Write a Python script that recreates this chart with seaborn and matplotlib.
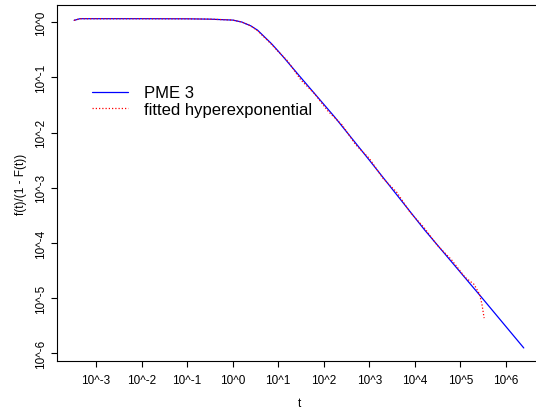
import numpy as np
import pandas as pd
import matplotlib
matplotlib.use("Agg")
import matplotlib.pyplot as plt
import seaborn as sns

# exponents (log10)
pme_logt = [-3.48, -3.35, -2.0, -1.0, -0.5, 0.0, 0.2, 0.4, 0.55, 0.7, 0.85, 0.96, 1.10,
            1.47, 2.24, 3.0, 4.21, 5.46, 6.39]
pme_logy = [0.03, 0.06, 0.06, 0.058, 0.052, 0.035, 0.0, -0.07, -0.15, -0.27, -0.39, -0.49,
            -0.62, -0.98, -1.72, -2.50, -3.76, -4.98, -5.90]

hyp_logt = [-3.48, -3.35, -1.0, -0.5, 0.0, 0.2, 0.4, 0.55, 0.7, 0.85, 0.96, 1.2, 1.5, 1.8,
            2.1, 2.4, 2.7, 3.0, 3.3, 3.6, 3.9, 4.2, 4.5, 4.8, 5.1, 5.3, 5.42, 5.47, 5.52]
hyp_logy = [0.03, 0.06, 0.058, 0.052, 0.035, 0.0, -0.07, -0.16, -0.28, -0.40, -0.50, -0.70,
            -1.05, -1.30, -1.62, -1.86, -2.22, -2.47, -2.83, -3.08, -3.45, -3.72, -4.05,
            -4.30, -4.62, -4.75, -4.93, -5.10, -5.36]

xtick_exp = [-3, -2, -1, 0, 1, 2, 3, 4, 5, 6]
ytick_exp = [0, -1, -2, -3, -4, -5, -6]

sns.set_style("white")
plt.rcParams['font.family'] = ['Liberation Sans', 'DejaVu Sans']
plt.rcParams['text.color'] = 'black'
plt.rcParams['axes.labelcolor'] = 'black'
plt.rcParams['xtick.color'] = 'black'
plt.rcParams['ytick.color'] = 'black'

pme = pd.DataFrame({"t": np.power(10.0, pme_logt), "y": np.power(10.0, pme_logy)})
hyp = pd.DataFrame({"t": np.power(10.0, hyp_logt), "y": np.power(10.0, hyp_logy)})

fig = plt.figure(figsize=(5.36, 4.10), dpi=100)
ax = fig.add_axes([57/536, 1-362/410, 485/536, 356/410])

sns.lineplot(data=pme, x="t", y="y", ax=ax, color="#0000FF", linewidth=0.9,
             label="PME 3", sort=False)
sns.lineplot(data=hyp, x="t", y="y", ax=ax, color="#FF0000", linewidth=0.9,
             label="fitted hyperexponential", sort=False, dashes=False)
ax.lines[1].set_dashes([1, 1.6])

ax.set_xscale("log")
ax.set_yscale("log")
ax.set_xlim(10**-3.855, 10**6.79)
ax.set_ylim(10**-6.136, 10**0.308)

ax.set_xticks([10.0**k for k in xtick_exp])
ax.set_xticklabels([f"10^{k}" for k in xtick_exp], fontsize=8.5)
ax.set_yticks([10.0**k for k in ytick_exp])
ax.set_yticklabels([f"10^{k}" for k in ytick_exp], fontsize=8.5, rotation=90, va="center")
ax.minorticks_off()
ax.tick_params(axis="both", direction="out", length=4.3, width=0.8, colors="black",
               bottom=True, left=True)
ax.tick_params(axis="x", pad=5)
ax.tick_params(axis="y", pad=3)

for s in ax.spines.values():
    s.set_visible(True)
    s.set_color("black")
    s.set_linewidth(0.8)

ax.set_xlabel("t", fontsize=8.5, labelpad=8)
ax.set_ylabel("f(t)/(1 - F(t))", fontsize=8.5, labelpad=6)

leg = ax.legend(loc="upper left", bbox_to_anchor=(0.072, 0.774), frameon=False,
                fontsize=12, handlelength=2.15, handletextpad=1.0, labelspacing=0.1,
                borderpad=0, borderaxespad=0)
for h in leg.get_lines():
    h.set_linewidth(0.9)
leg.get_lines()[1].set_dashes([1, 1.6])

fig.savefig("out.png", dpi=100)
